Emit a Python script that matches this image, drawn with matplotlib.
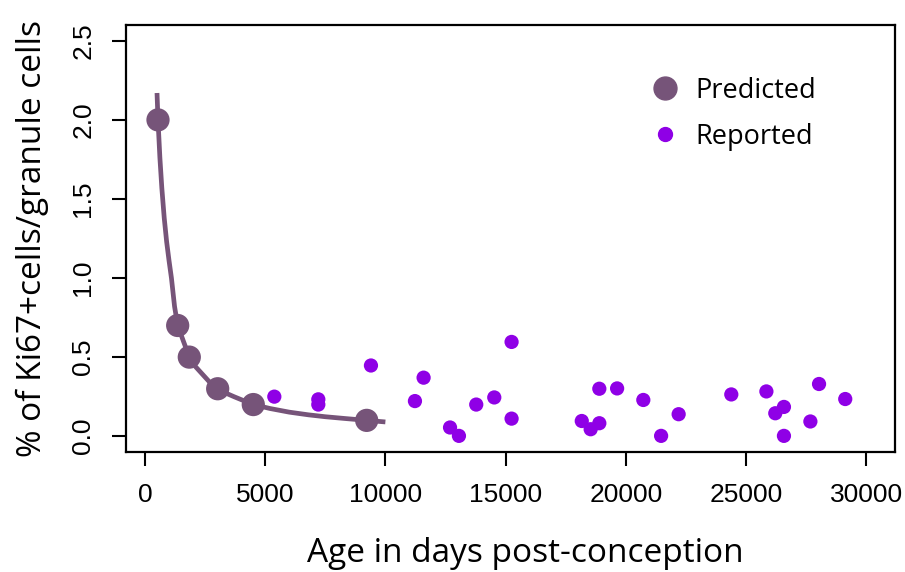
import matplotlib
matplotlib.use("Agg")
import matplotlib.pyplot as plt
from matplotlib.lines import Line2D

# --------------------
# Data
# --------------------
pred_age = [541, 1360, 1843, 3024, 4505, 9223]
pred_pct = [2.00, 0.70, 0.50, 0.30, 0.20, 0.10]

# fitted curve, sampled by eye along the drawn line
curve_age = [500, 541, 620, 700, 800, 900, 1000, 1100, 1230, 1360, 1600, 1843,
             2100, 2400, 2700, 3024, 3400, 3700, 4100, 4505, 5200, 6000, 6800,
             7500, 8300, 9223, 10000]
curve_pct = [2.17, 2.00, 1.76, 1.57, 1.38, 1.23, 1.11, 1.00, 0.82, 0.70, 0.60, 0.50,
             0.44, 0.39, 0.34, 0.30, 0.27, 0.25, 0.225, 0.20, 0.175, 0.152, 0.135,
             0.123, 0.112, 0.100, 0.090]

rep_age = [5380, 7210, 7210, 9400, 11230, 11590, 12690, 13060, 13780, 14530,
           15250, 15250, 18170, 18540, 18900, 18900, 19640, 20730, 21470, 22200,
           24390, 25850, 26220, 26580, 26580, 27680, 28040, 29130]
rep_pct = [0.250, 0.233, 0.200, 0.447, 0.222, 0.370, 0.055, 0.002, 0.200, 0.245,
           0.596, 0.111, 0.096, 0.044, 0.082, 0.300, 0.302, 0.229, 0.002, 0.139,
           0.264, 0.283, 0.145, 0.185, 0.002, 0.093, 0.330, 0.235]

x_ticks = [0, 5000, 10000, 15000, 20000, 25000, 30000]
y_ticks = [0.0, 0.5, 1.0, 1.5, 2.0, 2.5]

pred_col = "#765479"
rep_col = "#8f00e6"

tick_font = ["Liberation Sans Narrow", "Liberation Sans", "DejaVu Sans"]
label_font = ["Open Sans", "DejaVu Sans"]

fig = plt.figure(figsize=(9.05, 5.72), dpi=100)
ax = fig.add_axes([126 / 905, 120 / 572, 769 / 905, 427 / 572])

ax.plot(curve_age, curve_pct, color=pred_col, lw=3.4, solid_capstyle="butt", zorder=2)
ax.scatter(pred_age, pred_pct, s=280, color=pred_col, edgecolors="none", zorder=3)
ax.scatter(rep_age, rep_pct, s=105, color=rep_col, edgecolors="none", zorder=3)

ax.set_xlim(-790, 31200)
ax.set_ylim(-0.1, 2.6)

ax.set_xticks(x_ticks)
ax.set_xticklabels([str(v) for v in x_ticks], family=tick_font, fontsize=19)
ax.set_yticks(y_ticks)
ax.set_yticklabels([f"{v:.1f}" for v in y_ticks], family=tick_font, fontsize=19,
                   rotation=90, va="center")
ax.tick_params(axis="both", length=10, width=1.5, color="black")
ax.tick_params(axis="x", pad=12)
ax.tick_params(axis="y", pad=12)
for s in ax.spines.values():
    s.set_linewidth(1.6)

ax.set_xlabel("Age in days post-conception", family=label_font, fontsize=24, labelpad=22)
ax.xaxis.label.set_x(0.519)
ax.set_ylabel("% of Ki67+cells/granule cells", family=label_font, fontsize=24, labelpad=16)

# legend built by hand to mimic the R style
handles = [
    Line2D([], [], ls="none", marker="o", ms=16.5, color=pred_col, label="Predicted"),
    Line2D([], [], ls="none", marker="o", ms=10, color=rep_col, label="Reported"),
]
leg = ax.legend(handles=handles, loc="upper left", bbox_to_anchor=(0.6485, 0.936),
                frameon=False, prop={"family": label_font, "size": 19.5},
                labelspacing=0.67, handletextpad=0.5, handlelength=1.2)

fig.savefig("out.png", dpi=100)
